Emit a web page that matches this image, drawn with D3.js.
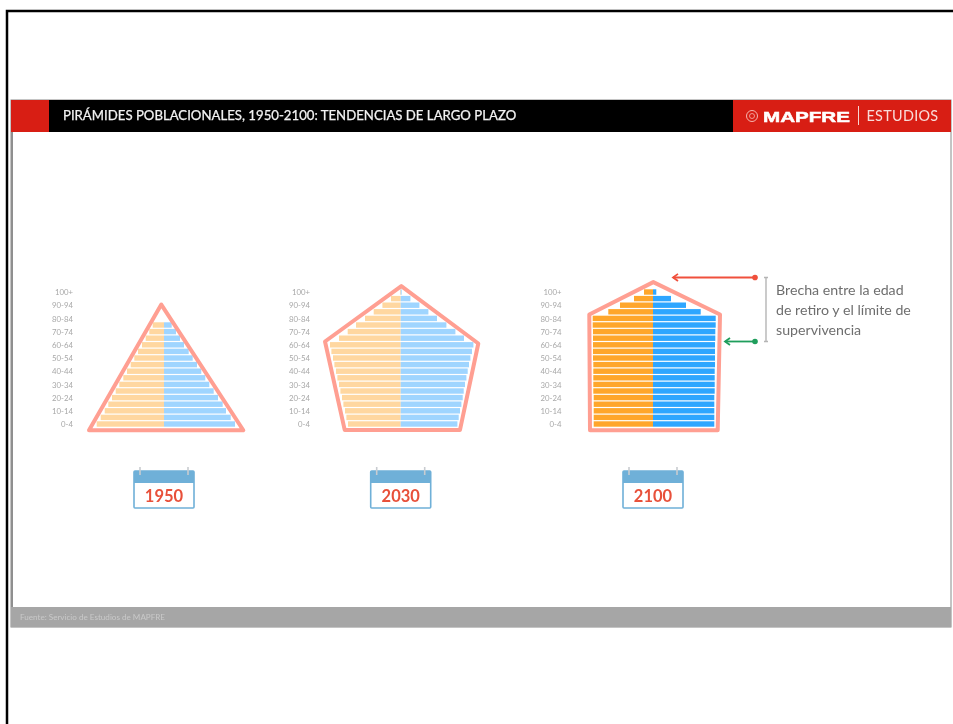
<!DOCTYPE html>
<html>
<head>
<meta charset="utf-8">
<script src="https://cdnjs.cloudflare.com/ajax/libs/d3/7.8.5/d3.min.js"></script>
<style>
  html, body { margin: 0; padding: 0; background: #fff; overflow: hidden; }
  text { font-family: Lato, "Open Sans", sans-serif; }
  svg { filter: blur(0.4px); }
</style>
</head>
<body>
<div id="chart"></div>
<script>
// age groups, bottom to top
const ages = ["0-4","5-9","10-14","15-19","20-24","25-29","30-34","35-39","40-44","45-49","50-54",
  "55-59","60-64","65-69","70-74","75-79","80-84","85-89","90-94","95-99","100+"];
const tickAges = ["0-4","10-14","20-24","30-34","40-44","50-54","60-64","70-74","80-84","90-94","100+"];

// share of population per age group, left and right side of each pyramid
const left1950 = [6.73,6.33,5.93,5.57,5.2,4.83,4.47,4.07,3.7,3.33,2.97,2.6,2.2,1.83,1.47,1.13,0,0,0,0,0];
const right1950 = [7.1,6.67,6.2,5.87,5.4,4.97,4.53,4.13,3.73,3.3,2.87,2.47,2.0,1.6,1.2,0.77,0,0,0,0,0];
const left2030 = [5.27,5.43,5.57,5.73,5.87,6.03,6.17,6.33,6.47,6.63,6.77,6.93,7.07,6.17,5.3,4.47,3.57,2.7,1.83,0.97,0.07];
const right2030 = [5.67,5.8,5.93,6.07,6.2,6.3,6.43,6.57,6.7,6.83,6.97,7.13,7.27,6.33,5.47,4.57,3.63,2.77,1.87,0.97,0.1];
const left2100 = [5.93,5.93,5.93,5.93,5.93,5.97,5.97,5.97,5.97,5.97,6.0,6.0,6.0,6.0,6.0,6.03,6.03,4.47,3.3,1.9,0.9];
const right2100 = [6.13,6.13,6.13,6.13,6.13,6.17,6.17,6.17,6.17,6.2,6.2,6.2,6.2,6.23,6.23,6.27,6.27,4.77,3.3,1.8,0.33];

// outlines drawn around each pyramid: [share, age row]
const outline1950 = [[-0.27,18.1],[7.93,-0.95],[-7.5,-0.95]];
const outline2030 = [[0.06,20.9],[7.76,12.2],[5.93,-0.9],[-5.6,-0.9],[-7.57,12.5]];
const outline2100 = [[0.03,21.5],[6.7,16.6],[6.47,-0.95],[-6.3,-0.95],[-6.37,16.6]];

const years = ["1950","2030","2100"];
const noteLines = ["Brecha entre la edad","de retiro y el límite de","supervivencia"];

const panels = [
  { year: years[0], cx: 164, axisX: 73, left: left1950, right: right1950, outline: outline1950, colL: "#ffd7a0", colR: "#9fd5ff" },
  { year: years[1], cx: 400.7, axisX: 310, left: left2030, right: right2030, outline: outline2030, colL: "#ffd7a0", colR: "#9fd5ff" },
  { year: years[2], cx: 653, axisX: 561.5, left: left2100, right: right2100, outline: outline2100, colL: "#ffa62b", colR: "#2ea6ff" }
];

const svg = d3.select("#chart").append("svg")
  .attr("width", 953)
  .attr("height", 724)
  .style("display", "block");

// outer black frame
svg.append("path")
  .attr("d", "M7,724V11H953")
  .attr("fill", "none")
  .attr("stroke", "#000")
  .attr("stroke-width", 2.5);

// slide
svg.append("rect").attr("x", 11).attr("y", 100).attr("width", 940).attr("height", 527)
  .attr("fill", "#fff").attr("stroke", "#8a8a8a").attr("stroke-width", 1);
svg.append("rect").attr("x", 11).attr("y", 100).attr("width", 2).attr("height", 527).attr("fill", "#8f8f8f");

// header
svg.append("rect").attr("x", 11).attr("y", 100).attr("width", 722).attr("height", 32).attr("fill", "#000");
svg.append("rect").attr("x", 11).attr("y", 100).attr("width", 38).attr("height", 32).attr("fill", "#d81e14");
svg.append("rect").attr("x", 733).attr("y", 100).attr("width", 218).attr("height", 32).attr("fill", "#d81e14");
svg.append("text").attr("x", 63).attr("y", 120)
  .attr("fill", "#f2f2f2").attr("font-size", 13.2)
  .attr("stroke", "#f2f2f2").attr("stroke-width", 0.25)
  .text("PIRÁMIDES POBLACIONALES, 1950-2100: TENDENCIAS DE LARGO PLAZO");

// logo
svg.append("circle").attr("cx", 752).attr("cy", 116).attr("r", 5.5)
  .attr("fill", "none").attr("stroke", "#f5b5ae").attr("stroke-width", 1);
svg.append("circle").attr("cx", 752).attr("cy", 116).attr("r", 2.5)
  .attr("fill", "none").attr("stroke", "#f5b5ae").attr("stroke-width", 0.8);
svg.append("text").attr("x", 763).attr("y", 121.5)
  .attr("fill", "#fff").attr("font-size", 15.5).attr("font-weight", 700)
  .attr("stroke", "#fff").attr("stroke-width", 0.5)
  .attr("textLength", 87).attr("lengthAdjust", "spacingAndGlyphs")
  .style("font-family", "'Liberation Sans', sans-serif")
  .text("MAPFRE");
svg.append("rect").attr("x", 858).attr("y", 106).attr("width", 1).attr("height", 19).attr("fill", "#f7d5d2");
svg.append("text").attr("x", 866.5).attr("y", 121)
  .attr("fill", "#f9dcd9").attr("font-size", 14.4).attr("letter-spacing", 0.3)
  .text("ESTUDIOS");

// footer
svg.append("rect").attr("x", 11).attr("y", 607).attr("width", 940).attr("height", 20).attr("fill", "#a6a6a6");
svg.append("text").attr("x", 20).attr("y", 620)
  .attr("fill", "#c9c9c9").attr("font-size", 8.1)
  .text("Fuente: Servicio de Estudios de MAPFRE");

// scales shared by the three pyramids
const y = d3.scaleBand()
  .domain(ages)
  .range([427.3, 288.7])
  .paddingInner(0.18)
  .paddingOuter(0.09);
const yRow = d3.scaleLinear().domain([0, 20]).range([424, 292]);
const x = d3.scaleLinear().domain([-10, 10]).range([-100, 100]);

panels.forEach(function (p) {
  const g = svg.append("g").attr("transform", `translate(${p.cx},0)`);

  // Y axis, only the labels are visible
  const axis = svg.append("g")
    .attr("transform", `translate(${p.axisX},0.6)`)
    .call(d3.axisLeft(y).tickValues(tickAges).tickSize(0).tickPadding(0));
  axis.select(".domain").remove();
  axis.selectAll("text")
    .attr("fill", "#a8a8a8")
    .attr("font-size", 7.8)
    .style("font-family", "Lato, sans-serif");

  // Bars
  g.selectAll(".barL")
    .data(ages)
    .join("rect")
    .attr("class", "barL")
    .attr("x", (d, i) => x(-p.left[i]))
    .attr("y", d => y(d))
    .attr("width", (d, i) => x(0) - x(-p.left[i]))
    .attr("height", y.bandwidth())
    .attr("fill", p.colL);
  g.selectAll(".barR")
    .data(ages)
    .join("rect")
    .attr("class", "barR")
    .attr("x", x(0))
    .attr("y", d => y(d))
    .attr("width", (d, i) => x(p.right[i]) - x(0))
    .attr("height", y.bandwidth())
    .attr("fill", p.colR);

  // outline
  const line = d3.line().x(d => x(d[0])).y(d => yRow(d[1])).curve(d3.curveLinearClosed);
  g.append("path")
    .attr("d", line(p.outline))
    .attr("fill", "none")
    .attr("stroke", "#ff9f92")
    .attr("stroke-width", 4)
    .attr("stroke-linejoin", "round");

  // calendar
  const cal = g.append("g").attr("transform", "translate(0,471)");
  cal.append("rect").attr("x", -30).attr("y", 0).attr("width", 60).attr("height", 37)
    .attr("rx", 1).attr("fill", "#fff").attr("stroke", "#6fb0d8").attr("stroke-width", 1.6);
  cal.append("rect").attr("x", -30).attr("y", 0).attr("width", 60).attr("height", 12).attr("fill", "#6fb0d8");
  [-24, 24].forEach(function (dx) {
    cal.append("line").attr("x1", dx).attr("x2", dx).attr("y1", -4).attr("y2", 4)
      .attr("stroke", "#c9ccd0").attr("stroke-width", 1.6);
  });
  cal.append("text").attr("x", 0).attr("y", 30.5)
    .attr("text-anchor", "middle").attr("fill", "#e8503a")
    .attr("font-size", 16.5).attr("font-weight", 700)
    .text(p.year);
});

// gap annotation, placed on the 2100 pyramid's age rows
const gapX = d3.scaleLinear().domain([-10, 10]).range([553, 753]);
const retiroRow = 12.5, limiteRow = 22.2;

function arrow(row, fromShare, toShare, color) {
  const yy = yRow(row);
  svg.append("line")
    .attr("x1", gapX(fromShare)).attr("x2", gapX(toShare)).attr("y1", yy).attr("y2", yy)
    .attr("stroke", color).attr("stroke-width", 1.8);
  svg.append("circle").attr("cx", gapX(fromShare)).attr("cy", yy).attr("r", 2.8).attr("fill", color);
  const tip = gapX(toShare);
  svg.append("path")
    .attr("d", `M${tip + 5},${yy - 3.6}L${tip},${yy}L${tip + 5},${yy + 3.6}`)
    .attr("fill", "none").attr("stroke", color).attr("stroke-width", 1.8);
}
arrow(limiteRow, 10.2, 2, "#f0503c");
arrow(retiroRow, 10.2, 7.2, "#1f9e5c");

// bracket
const bx = gapX(11.3);
svg.append("path")
  .attr("d", `M${bx - 2},${yRow(limiteRow)}H${bx + 2}M${bx},${yRow(limiteRow)}V${yRow(retiroRow)}M${bx - 2},${yRow(retiroRow)}H${bx + 2}`)
  .attr("fill", "none").attr("stroke", "#b5b5b5").attr("stroke-width", 1.4);

svg.append("g").selectAll("text")
  .data(noteLines)
  .join("text")
  .attr("x", 776)
  .attr("y", (d, i) => 295 + i * 20)
  .attr("fill", "#6e6e6e")
  .attr("font-size", 14.2)
  .text(d => d);
</script>
</body>
</html>
